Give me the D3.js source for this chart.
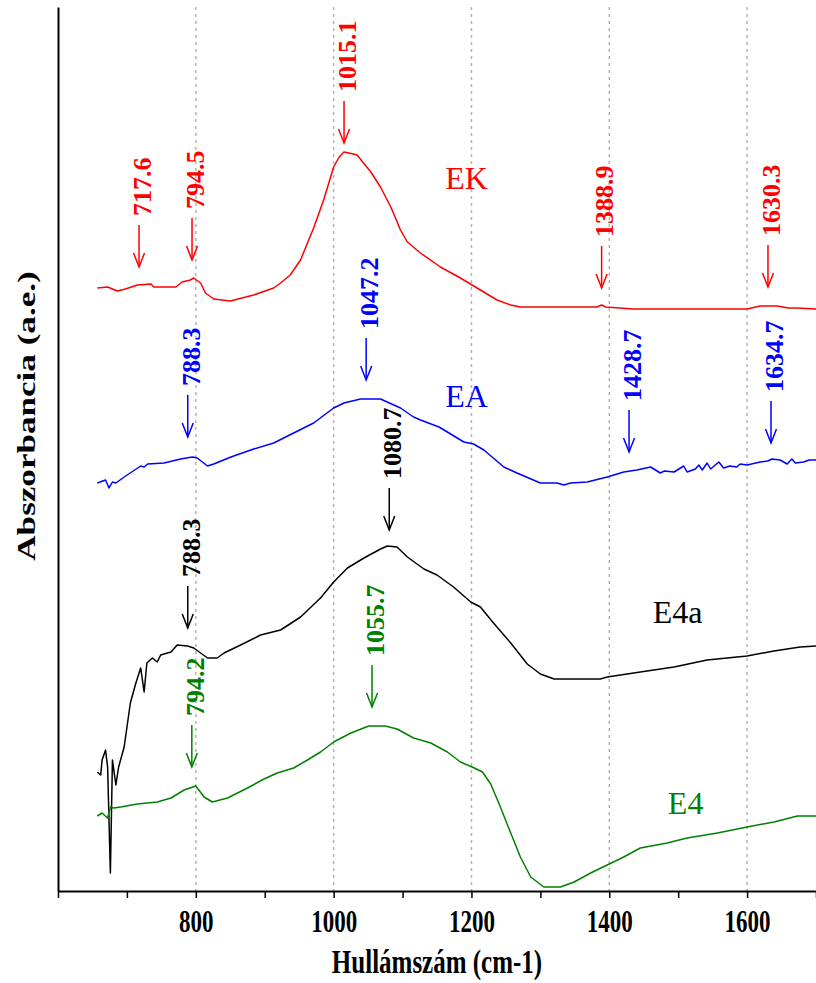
<!DOCTYPE html>
<html>
<head>
<meta charset="utf-8">
<script src="https://cdn.jsdelivr.net/npm/d3@7"></script>
<style>
  body { margin: 0; background: #fff; }
  svg { display: block; }
</style>
</head>
<body>
<svg id="chart" width="816" height="983"></svg>
<script>
// ---- FTIR spectra (wavenumber in cm-1, absorbance in a.u., stacked with offsets) ----
const ekWave = [657,672,686,698,715,735,739,771,780,792,797,807,814,826,850,884,913,923,937,952,962,971,986,1000,1008,1015,1022,1034,1054,1068,1083,1097,1107,1126,1155,1184,1213,1237,1257,1271,1300,1353,1382,1389,1395,1435,1600,1619,1643,1660,1672,1700];
const ekAbs  = [6.03,6.04,6.00,6.02,6.06,6.07,6.04,6.04,6.09,6.11,6.13,6.08,5.98,5.92,5.90,5.96,6.03,6.08,6.16,6.31,6.48,6.63,6.92,7.24,7.34,7.39,7.38,7.36,7.19,7.04,6.84,6.61,6.49,6.38,6.24,6.13,6.01,5.91,5.86,5.84,5.84,5.84,5.84,5.86,5.84,5.82,5.82,5.85,5.85,5.83,5.83,5.82];

const eaWave = [657,669,674,679,684,696,720,725,730,754,778,795,802,817,826,851,884,913,942,971,1000,1015,1039,1068,1097,1116,1126,1153,1189,1203,1218,1247,1266,1300,1324,1334,1344,1368,1397,1421,1440,1460,1474,1480,1494,1508,1513,1525,1530,1535,1542,1547,1559,1566,1575,1585,1590,1600,1619,1630,1636,1648,1658,1665,1670,1682,1690,1700];
const eaAbs  = [4.08,4.11,4.03,4.09,4.08,4.14,4.25,4.24,4.27,4.28,4.32,4.34,4.33,4.25,4.27,4.34,4.42,4.48,4.58,4.68,4.83,4.88,4.92,4.92,4.83,4.74,4.71,4.64,4.49,4.47,4.41,4.24,4.18,4.08,4.08,4.06,4.08,4.09,4.14,4.19,4.21,4.24,4.18,4.20,4.19,4.25,4.19,4.22,4.26,4.21,4.28,4.22,4.29,4.23,4.25,4.24,4.27,4.26,4.29,4.30,4.32,4.31,4.27,4.32,4.28,4.29,4.31,4.31];

const e4aWave = [657,662,664,669,672,676,679,684,688,696,705,713,720,725,729,737,744,749,764,773,788,797,807,817,831,841,865,894,923,952,981,1000,1020,1044,1068,1078,1092,1107,1131,1150,1174,1199,1213,1232,1257,1281,1300,1320,1387,1397,1445,1494,1542,1600,1639,1677,1700];
const e4aAbs  = [1.19,1.16,1.31,1.41,1.24,0.18,1.31,1.06,1.24,1.44,1.88,2.08,2.23,1.99,2.28,2.33,2.29,2.36,2.39,2.46,2.45,2.43,2.38,2.33,2.33,2.38,2.46,2.56,2.61,2.74,2.93,3.09,3.23,3.33,3.42,3.45,3.44,3.34,3.22,3.16,3.04,2.89,2.84,2.68,2.48,2.27,2.17,2.12,2.12,2.14,2.19,2.24,2.31,2.35,2.40,2.44,2.45];

const e4Wave = [657,664,672,676,681,691,715,744,764,783,800,812,824,846,875,899,918,942,962,981,1000,1025,1051,1075,1092,1116,1141,1165,1184,1201,1216,1228,1242,1257,1271,1286,1305,1329,1349,1373,1397,1421,1445,1484,1513,1557,1600,1639,1673,1700];
const e4Abs  = [0.75,0.78,0.73,0.84,0.83,0.84,0.87,0.89,0.93,1.01,1.05,0.94,0.89,0.93,1.03,1.12,1.18,1.23,1.31,1.39,1.49,1.58,1.65,1.65,1.62,1.53,1.48,1.39,1.29,1.24,1.19,1.07,0.84,0.58,0.34,0.14,0.04,0.04,0.09,0.18,0.26,0.34,0.43,0.48,0.53,0.58,0.64,0.69,0.75,0.75];

const seriesNames  = ["EK", "EA", "E4a", "E4"];
const seriesColors = ["#ff0000", "#0000ff", "#000000", "#008000"];
const seriesWaves  = [ekWave, eaWave, e4aWave, e4Wave];
const seriesAbs    = [ekAbs, eaAbs, e4aAbs, e4Abs];

// Name labels placed beside each spectrum (wavenumber, absorbance)
const nameLabelWave = [1162, 1162, 1463, 1485];
const nameLabelAbs  = [7.02, 4.84, 2.68, 0.77];

// Marked band positions and the absorbance level of each arrow tip
const peakSeries = ["EK","EK","EK","EK","EK","EA","EA","EA","EA","E4a","E4a","E4","E4"];
const peakWave   = [717.6, 794.5, 1015.1, 1388.9, 1630.3, 788.3, 1047.2, 1428.7, 1634.7, 788.3, 1080.7, 794.2, 1055.7];
const peakTipAbs = [6.24, 6.31, 7.48, 6.03, 6.04, 4.54, 5.11, 4.39, 4.48, 2.63, 3.61, 1.24, 1.84];

const tickValues = [600, 700, 800, 900, 1000, 1100, 1200, 1300, 1400, 1500, 1600, 1700];
const labelledTicks = [800, 1000, 1200, 1400, 1600];

// ---- layout ----
const svg = d3.select("#chart");
const plot = { left: 58, right: 816, top: 7, bottom: 891 };

const x = d3.scaleLinear().domain([600, 1700]).range([plot.left, plot.right]);
const y = d3.scaleLinear().domain([0, 8.84]).range([plot.bottom, plot.top]);

const serif = "'Liberation Serif','Times New Roman',serif";
// axis lettering is drawn tall and narrow
const axisStretch = 1.35;

// dotted vertical grid at the labelled wavenumbers
svg.append("g")
  .selectAll("line")
  .data(labelledTicks)
  .join("line")
  .attr("x1", d => x(d)).attr("x2", d => x(d))
  .attr("y1", plot.top).attr("y2", plot.bottom)
  .attr("stroke", "#b4b4b4")
  .attr("stroke-width", 1.5)
  .attr("stroke-dasharray", "3,4");

// spectra
const line = d3.line().x(d => x(d[0])).y(d => y(d[1]));
seriesNames.forEach((name, i) => {
  const pts = seriesWaves[i].map((w, j) => [w, seriesAbs[i][j]]);
  svg.append("path")
    .datum(pts)
    .attr("fill", "none")
    .attr("stroke", seriesColors[i])
    .attr("stroke-width", 1.5)
    .attr("stroke-linejoin", "round")
    .attr("d", line);
});

// x axis
const xAxis = d3.axisBottom(x)
  .tickValues(tickValues)
  .tickSize(7)
  .tickSizeOuter(0)
  .tickFormat(d => labelledTicks.includes(d) ? d : "");
const gx = svg.append("g")
  .attr("transform", `translate(0,${plot.bottom})`)
  .call(xAxis);
gx.select(".domain").attr("stroke", "#000").attr("stroke-width", 2);
gx.selectAll(".tick line").attr("stroke", "#000").attr("stroke-width", 1.5);
gx.selectAll(".tick text")
  .attr("y", 41 / axisStretch)
  .attr("dy", 0)
  .attr("transform", `scale(1,${axisStretch})`)
  .attr("font-family", serif)
  .attr("font-weight", "bold")
  .attr("font-size", 23)
  .attr("fill", "#000");

// y axis: a bare line, no ticks
const yAxis = d3.axisLeft(y).tickValues([]).tickSizeOuter(0);
const gy = svg.append("g")
  .attr("transform", `translate(${plot.left},0)`)
  .call(yAxis);
gy.select(".domain").attr("stroke", "#000").attr("stroke-width", 2);

// axis titles
svg.append("text")
  .attr("transform", `translate(${(plot.left + plot.right) / 2},973) scale(1,${axisStretch})`)
  .attr("text-anchor", "middle")
  .attr("font-family", serif)
  .attr("font-weight", "bold")
  .attr("font-size", 25)
  .text("Hullámszám (cm-1)");

svg.append("text")
  .attr("transform", `translate(35,416) rotate(-90) scale(${axisStretch},1)`)
  .attr("text-anchor", "middle")
  .attr("font-family", serif)
  .attr("font-weight", "bold")
  .attr("font-size", 26)
  .text("Abszorbancia (a.e.)");

// series name labels
seriesNames.forEach((name, i) => {
  svg.append("text")
    .attr("x", x(nameLabelWave[i]))
    .attr("y", y(nameLabelAbs[i]))
    .attr("font-family", serif)
    .attr("font-size", 32)
    .attr("fill", seriesColors[i])
    .text(name);
});

// band markers: arrow pointing down at the band, rotated value above it
const arrowLen = 42, headLen = 14, headHalf = 5.5, textGap = 9;
peakWave.forEach((w, i) => {
  const color = seriesColors[seriesNames.indexOf(peakSeries[i])];
  const ax = x(w), tip = y(peakTipAbs[i]);
  const g = svg.append("g").attr("stroke", color).attr("stroke-width", 1.5).attr("fill", "none");
  g.append("line").attr("x1", ax).attr("x2", ax).attr("y1", tip - arrowLen).attr("y2", tip);
  g.append("path").attr("d", `M${ax - headHalf},${tip - headLen}L${ax},${tip}L${ax + headHalf},${tip - headLen}`);
  svg.append("text")
    .attr("transform", `translate(${ax + 3},${tip - arrowLen - textGap}) rotate(-90)`)
    .attr("dy", "0.34em")
    .attr("font-family", serif)
    .attr("font-weight", "bold")
    .attr("font-size", 26)
    .attr("fill", color)
    .text(d3.format(".1f")(w));
});
</script>
</body>
</html>
